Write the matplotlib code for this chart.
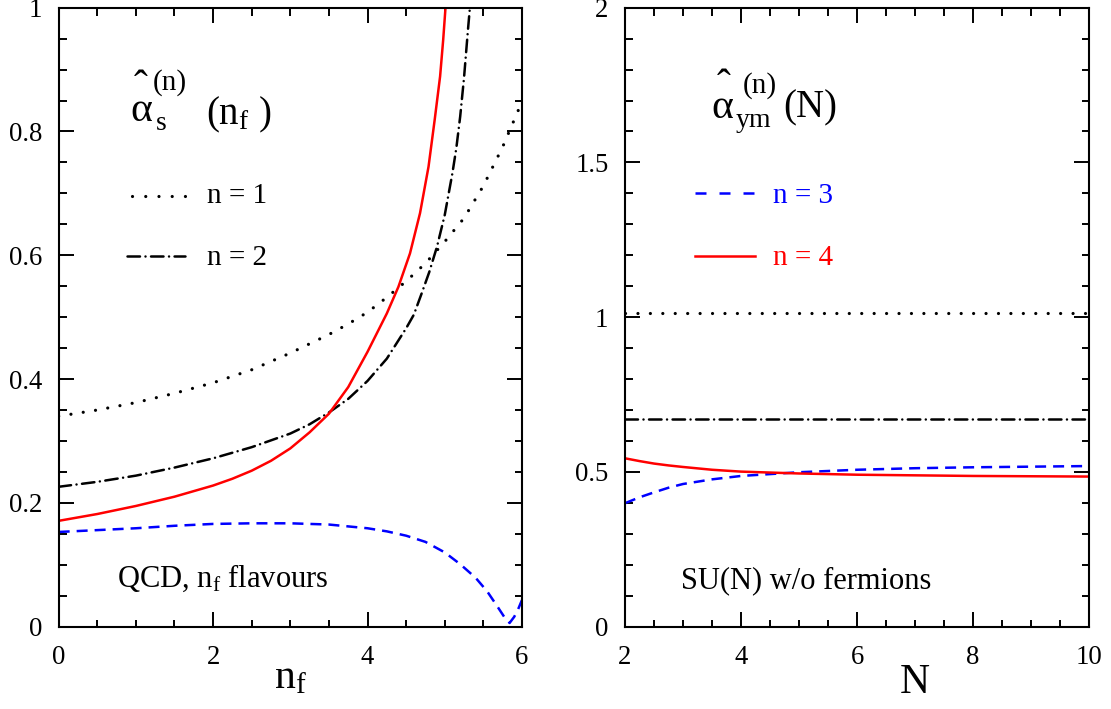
import numpy as np
import matplotlib
matplotlib.use("Agg")
import matplotlib.pyplot as plt
from matplotlib.ticker import MultipleLocator, FuncFormatter

plt.rcParams['font.family'] = ['Liberation Serif', 'DejaVu Serif']
plt.rcParams['mathtext.fontset'] = 'custom'
plt.rcParams['mathtext.rm'] = 'Liberation Serif'
plt.rcParams['mathtext.it'] = 'Liberation Serif:italic'
plt.rcParams['mathtext.default'] = 'rm'

# left panel: alpha_s^(n) vs number of flavours
nf_n1 = [0, 0.5, 1, 1.5, 2, 2.5, 3, 3.5, 3.75, 4, 4.25, 4.5, 4.75, 5, 5.25, 5.5, 5.75, 6]
as_n1 = [0.340, 0.350, 0.362, 0.377, 0.394, 0.415, 0.442, 0.472, 0.489, 0.508, 0.532, 0.558,
         0.587, 0.622, 0.660, 0.712, 0.775, 0.848]

nf_n2 = [0, 0.5, 1, 1.5, 2, 2.5, 3, 3.25, 3.5, 3.75, 4, 4.25, 4.5, 4.6, 4.7, 4.8, 4.9, 5.0,
         5.1, 5.15, 5.2, 5.25, 5.3, 5.34]
as_n2 = [0.226, 0.234, 0.244, 0.257, 0.272, 0.290, 0.312, 0.327, 0.346, 0.368, 0.397, 0.433,
         0.482, 0.504, 0.538, 0.573, 0.614, 0.665, 0.733, 0.773, 0.824, 0.887, 0.963, 1.02]

nf_n3 = [0, 0.5, 1, 1.5, 2, 2.5, 3, 3.5, 3.75, 4, 4.25, 4.5, 4.75, 5.0, 5.2, 5.4, 5.55,
         5.68, 5.78, 5.84, 5.9, 5.95, 6.0]
as_n3 = [0.153, 0.156, 0.159, 0.163, 0.166, 0.167, 0.167, 0.165, 0.162, 0.159, 0.154, 0.147,
         0.137, 0.120, 0.101, 0.079, 0.057, 0.033, 0.014, 0.006, 0.016, 0.028, 0.043]

nf_n4 = [0, 0.5, 1, 1.5, 2, 2.25, 2.5, 2.75, 3, 3.25, 3.5, 3.75, 4, 4.25, 4.4, 4.55, 4.68,
         4.79, 4.87, 4.94, 4.98, 5.01]
as_n4 = [0.171, 0.182, 0.195, 0.210, 0.228, 0.239, 0.252, 0.268, 0.288, 0.314, 0.344, 0.387,
         0.444, 0.506, 0.549, 0.603, 0.668, 0.743, 0.819, 0.889, 0.948, 1.0]

# right panel: pure Yang-Mills vs N
N = [2, 2.25, 2.5, 2.75, 3, 3.5, 4, 5, 6, 7, 8, 9, 10]
ym_n1 = [1.013] * 13
ym_n2 = [0.671] * 13
ym_n3 = [0.399, 0.418, 0.434, 0.449, 0.461, 0.476, 0.487, 0.499, 0.507, 0.512, 0.515, 0.517, 0.519]
ym_n4 = [0.544, 0.535, 0.527, 0.521, 0.516, 0.507, 0.501, 0.495, 0.491, 0.489, 0.487, 0.486, 0.485]

lw = 1.8
px = 100 / 72.0 * lw
lwd = 2.3  # dotted lines, bigger dots
pxd = 100 / 72.0 * lwd
DOT = (0, (0.01, 12.4 / pxd))
DASHDOT = (0, (12.5 / px, 5.5 / px, 0.01, 5.5 / px))
DASH = (0, (11 / px, 7 / px))
RED = '#ff0000'
BLUE = '#0000ff'

fig = plt.figure(figsize=(11.11, 7.09), dpi=100)
ax1 = fig.add_axes([0.0528, 0.1161, 0.4170, 0.8731])
ax2 = fig.add_axes([0.5626, 0.1161, 0.4176, 0.8731])

ax1.plot(nf_n1, as_n1, lw=lwd, color='black', linestyle=DOT, dash_capstyle='round')
ax1.plot(nf_n2, as_n2, lw=lw, color='black', linestyle=DASHDOT, dash_capstyle='round')
ax1.plot(nf_n3, as_n3, lw=lw, color=BLUE, linestyle=DASH)
ax1.plot(nf_n4, as_n4, lw=lw, color=RED)

ax2.plot(N, ym_n1, lw=lwd, color='black', linestyle=DOT, dash_capstyle='round')
ax2.plot(N, ym_n2, lw=lw, color='black', linestyle=DASHDOT, dash_capstyle='round')
ax2.plot(N, ym_n3, lw=lw, color=BLUE, linestyle=DASH)
ax2.plot(N, ym_n4, lw=lw, color=RED)

fmt = FuncFormatter(lambda v, p: '%g' % v)
for ax in (ax1, ax2):
    ax.tick_params(which='both', direction='in', top=True, right=True, width=1.4,
                   labelsize=19.3, labelfontfamily='Liberation Serif')
    ax.tick_params(which='major', length=10.8)
    ax.tick_params(which='minor', length=5.4)
    ax.tick_params(axis='y', pad=12)
    ax.tick_params(axis='x', pad=13)
    ax.xaxis.set_major_formatter(fmt)
    ax.yaxis.set_major_formatter(fmt)
    for s in ax.spines.values():
        s.set_linewidth(1.5)

ax1.set_xlim(0, 6)
ax1.set_ylim(0, 1)
ax1.xaxis.set_major_locator(MultipleLocator(2))
ax1.xaxis.set_minor_locator(MultipleLocator(0.5))
ax1.yaxis.set_major_locator(MultipleLocator(0.2))
ax1.yaxis.set_minor_locator(MultipleLocator(0.05))

ax2.set_xlim(2, 10)
ax2.set_ylim(0, 2)
ax2.xaxis.set_major_locator(MultipleLocator(2))
ax2.xaxis.set_minor_locator(MultipleLocator(0.5))
ax2.yaxis.set_major_locator(MultipleLocator(0.5))
ax2.yaxis.set_minor_locator(MultipleLocator(0.1))

# panel titles, built from pieces (big alpha with hat, sub/superscripts)
t1 = ax1.transAxes
ax1.text(0.154, 0.817, 'α', transform=t1, fontsize=30, va='baseline')
ax1.text(0.1776, 0.852, 'ˆ', transform=t1, fontsize=30, va='baseline', ha='center')
ax1.text(0.2035, 0.867, '(n)', transform=t1, fontsize=21, va='baseline')
ax1.text(0.210, 0.802, 's', transform=t1, fontsize=20, va='baseline')
ax1.text(0.318, 0.811, r'(n$_{\mathrm{f}}$ )', transform=t1, fontsize=28, va='baseline')

t2 = ax2.transAxes
ax2.text(0.185, 0.822, 'α', transform=t2, fontsize=30, va='baseline')
ax2.text(0.2134, 0.854, 'ˆ', transform=t2, fontsize=30, va='baseline', ha='center')
ax2.text(0.254, 0.8627, '(n)', transform=t2, fontsize=21, va='baseline')
ax2.text(0.239, 0.807, 'ym', transform=t2, fontsize=20, va='baseline')
ax2.text(0.3405, 0.822, '(N)', transform=t2, fontsize=28, va='baseline')

# hand-made legend entries
ax1.plot([0.158, 0.273], [0.696, 0.696], transform=t1, lw=lwd, color='black',
         linestyle=(0, (0.01, 13.2 / pxd)), dash_capstyle='round')
ax1.text(0.32, 0.684, 'n = 1', transform=t1, fontsize=21, va='baseline')
ax1.plot([0.147, 0.273], [0.599, 0.599], transform=t1, lw=lw, color='black',
         linestyle=DASHDOT, dash_capstyle='round')
ax1.text(0.32, 0.584, 'n = 2', transform=t1, fontsize=21, va='baseline')

ax2.plot([0.15, 0.281], [0.701, 0.701], transform=t2, lw=lw, color=BLUE,
         linestyle=(0, (11 / px, 13 / px)))
ax2.text(0.319, 0.685, 'n = 3', transform=t2, fontsize=21, va='baseline', color=BLUE)
ax2.plot([0.15, 0.281], [0.599, 0.599], transform=t2, lw=lw, color=RED)
ax2.text(0.319, 0.584, 'n = 4', transform=t2, fontsize=21, va='baseline', color=RED)

ax1.text(0.126, 0.064, r'QCD, n$_{\mathrm{f}}$ flavours', transform=t1, fontsize=22, va='baseline')
ax2.text(0.121, 0.0625, 'SU(N) w/o fermions', transform=t2, fontsize=22, va='baseline')

# axis labels
ax1.text(0.5, -0.099, r'n$_{\mathrm{f}}$', transform=t1, fontsize=30, va='baseline', ha='center')
ax2.text(0.625, -0.107, 'N', transform=t2, fontsize=30, va='baseline', ha='center')

fig.savefig('out.png', dpi=100)
